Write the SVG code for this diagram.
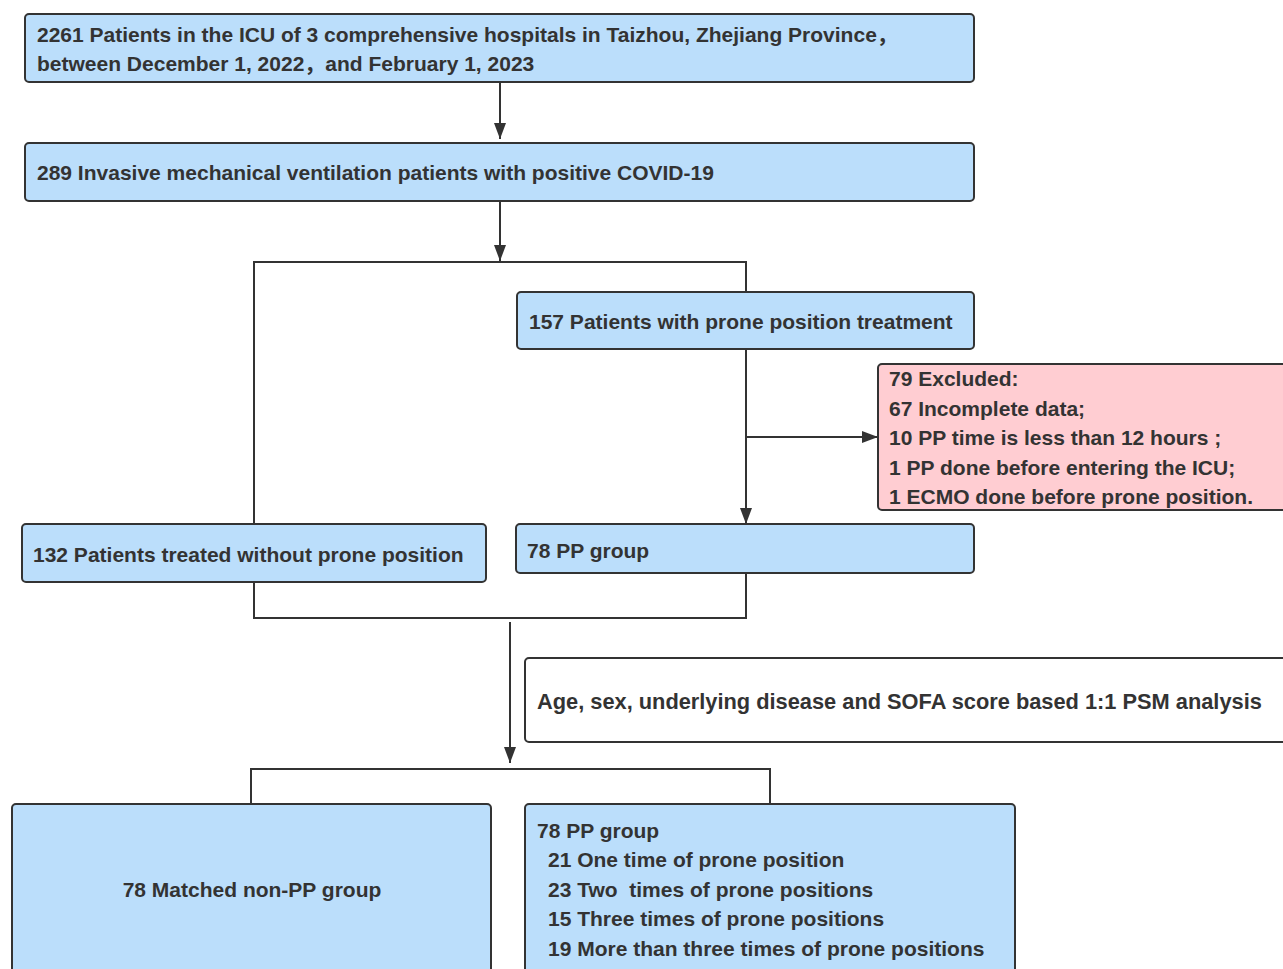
<svg xmlns="http://www.w3.org/2000/svg" width="1283" height="969" viewBox="0 0 1283 969">
<style>
.b{fill:#BBDEFB;stroke:#333;stroke-width:2}
.p{fill:#FFCDD2;stroke:#333;stroke-width:2}
.w{fill:#fff;stroke:#333;stroke-width:2}
text{font-family:"Liberation Sans",Arial,"Noto Sans CJK SC",sans-serif;font-size:21px;font-weight:bold;fill:#333}
.c line,.c polyline{stroke:#333;stroke-width:2;fill:none}
</style>
<defs>
<marker id="ah" viewBox="0 0 16 12" refX="16" refY="6" markerWidth="16" markerHeight="12" markerUnits="userSpaceOnUse" orient="auto"><path d="M0,0 L16,6 L0,12 z" fill="#333"/></marker>
</defs>
<rect width="1283" height="969" fill="#fff"/>
<g class="c">
<line x1="500" y1="83" x2="500" y2="139" marker-end="url(#ah)"/>
<line x1="500" y1="202" x2="500" y2="261" marker-end="url(#ah)"/>
<polyline points="254,524 254,262 746,262 746,292"/>
<line x1="746" y1="350" x2="746" y2="524" marker-end="url(#ah)"/>
<line x1="746" y1="437" x2="878" y2="437" marker-end="url(#ah)"/>
<polyline points="254,583 254,618 746,618 746,574"/>
<line x1="510" y1="622" x2="510" y2="763" marker-end="url(#ah)"/>
<polyline points="251,804 251,769 770,769 770,804"/>
</g>
<g id="n1"><rect class="b" x="25" y="14" width="949" height="68" rx="4"/>
<text x="37" y="42">2261 Patients in the ICU of 3 comprehensive hospitals in Taizhou, Zhejiang Province，</text>
<text x="37" y="71">between December 1, 2022，and February 1, 2023</text></g>
<g id="n2"><rect class="b" x="25" y="143" width="949" height="58" rx="4"/>
<text x="37" y="180">289 Invasive mechanical ventilation patients with positive COVID-19</text></g>
<g id="n3"><rect class="b" x="517" y="292" width="457" height="57" rx="4"/>
<text x="529" y="329">157 Patients with prone position treatment</text></g>
<g id="n4"><rect class="p" x="878" y="364" width="410" height="146" rx="4"/>
<text x="889" y="386">79 Excluded:</text>
<text x="889" y="416">67 Incomplete data;</text>
<text x="889" y="445">10 PP time is less than 12 hours ;</text>
<text x="889" y="475">1 PP done before entering the ICU;</text>
<text x="889" y="504">1 ECMO done before prone position.</text></g>
<g id="n5"><rect class="b" x="22" y="524" width="464" height="58" rx="4"/>
<text x="33" y="562">132 Patients treated without prone position</text></g>
<g id="n6"><rect class="b" x="516" y="524" width="458" height="49" rx="4"/>
<text x="527" y="558">78 PP group</text></g>
<g id="n7"><rect class="w" x="525" y="658" width="765" height="84" rx="4"/>
<text x="537" y="709" style="font-size:21.8px">Age, sex, underlying disease and SOFA score based 1:1 PSM analysis</text></g>
<g id="n8"><rect class="b" x="12" y="804" width="479" height="175" rx="4"/>
<text x="252" y="897" text-anchor="middle">78 Matched non-PP group</text></g>
<g id="n9"><rect class="b" x="525" y="804" width="490" height="175" rx="4"/>
<text x="537" y="838">78 PP group</text>
<text x="548" y="867">21 One time of prone position</text>
<text x="548" y="897">23 Two&#160; times of prone positions</text>
<text x="548" y="926">15 Three times of prone positions</text>
<text x="548" y="956">19 More than three times of prone positions</text></g>
</svg>
